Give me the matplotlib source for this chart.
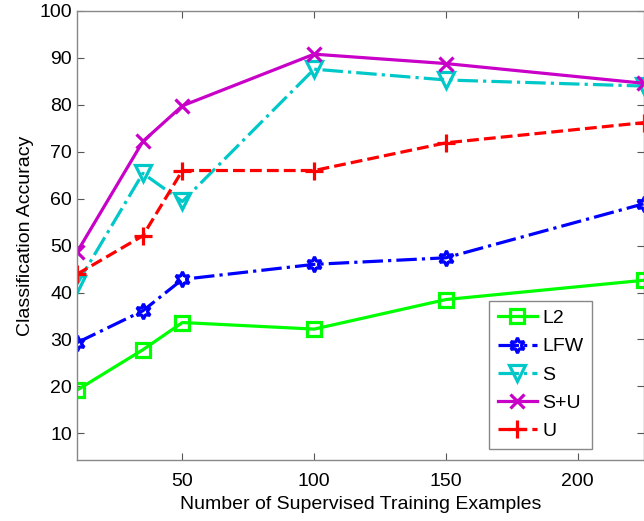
import matplotlib
matplotlib.use('Agg')
import matplotlib.pyplot as plt

plt.rcParams['font.family'] = ['Liberation Sans', 'DejaVu Sans']

# Number of supervised training examples
n_examples = [10, 35, 50, 100, 150, 225]

# Classification accuracy per method
acc_l2 = [19.2, 27.8, 33.6, 32.2, 38.5, 42.6]
acc_lfw = [29.3, 36.1, 42.8, 46.0, 47.4, 58.9]
acc_s = [41.8, 65.4, 59.4, 87.6, 85.3, 84.0]
acc_su = [48.6, 72.2, 79.8, 90.8, 88.8, 84.6]
acc_u = [43.9, 52.1, 66.0, 66.0, 71.9, 76.2]

fig = plt.figure(figsize=(6.44, 5.21), dpi=100)
ax = fig.add_axes([77 / 644, 61 / 521, 566.5 / 644, 449 / 521])

lw = 2.3
ms = 10
ax.plot(n_examples, acc_l2, '-', color='#00ff00', lw=lw, marker='s', ms=ms,
        mfc='none', mew=lw, label='L2')
ax.plot(n_examples, acc_lfw, '-.', color='#0000ff', lw=lw, marker=(6, 1, 0), ms=ms + 1,
        mfc='none', mew=lw, label='LFW')
ax.plot(n_examples, acc_s, '-.', color='#00c8c8', lw=lw, marker='v', ms=ms + 2,
        mfc='none', mew=lw, label='S')
ax.plot(n_examples, acc_su, '-', color='#c800c8', lw=lw, marker='x', ms=ms,
        mew=lw, label='S+U')
ax.plot(n_examples, acc_u, '--', color='#ff0000', lw=lw, marker='+', ms=ms + 3,
        mew=lw, label='U')

ax.set_xlim(10, 225)
ax.set_ylim(4.3, 100)
ax.set_xticks([50, 100, 150, 200])
ax.set_yticks(range(10, 101, 10))

for sp in ax.spines.values():
    sp.set_color('#888888')
    sp.set_linewidth(1.0)
ax.tick_params(direction='in', length=5, width=0.8, color='#555555',
               top=True, right=True, labelsize=14)
ax.tick_params(axis='x', pad=9.5)
ax.tick_params(axis='y', pad=3.5)

ax.set_xlabel('Number of Supervised Training Examples', fontsize=14, labelpad=4)
ax.set_ylabel('Classification Accuracy', fontsize=14, labelpad=4)

leg = ax.legend(loc='lower left', bbox_to_anchor=(489 / 644, 72 / 521),
                bbox_transform=fig.transFigure, borderaxespad=0,
                fancybox=False, framealpha=1, edgecolor='#888888',
                fontsize=14, handlelength=2.0, handletextpad=0.3,
                labelspacing=0.55, borderpad=0.45)
leg.get_frame().set_linewidth(1.0)

fig.savefig('out.png', dpi=100)
